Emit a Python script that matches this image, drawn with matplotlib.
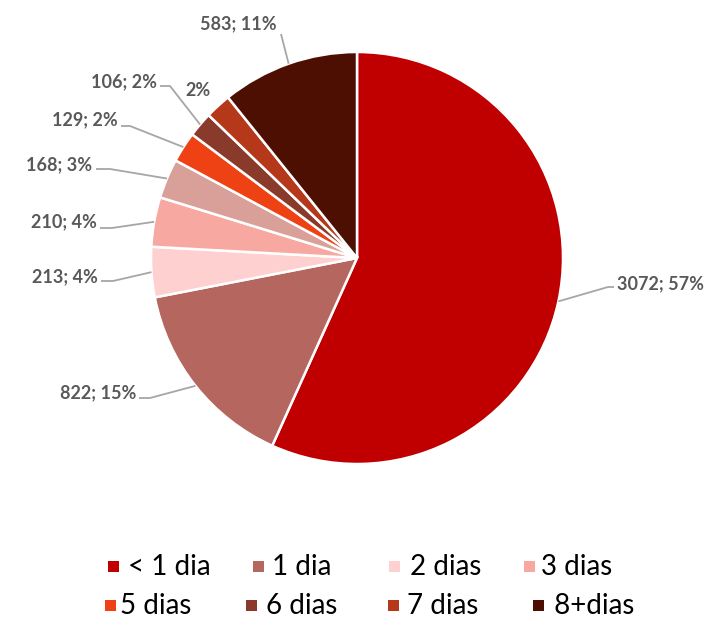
import matplotlib
matplotlib.use("Agg")
import matplotlib.pyplot as plt
import numpy as np
from matplotlib.patches import Rectangle

categorias = ["< 1 dia", "1 dia", "2 dias", "3 dias", "4 dias", "5 dias", "6 dias", "7 dias", "8+dias"]
valores = [3072, 822, 213, 210, 168, 129, 106, 110, 583]
cores = ["#C00000", "#B5665E", "#FFD0D0", "#F7A8A0", "#D9A09A",
         "#EE4215", "#8A3A2A", "#B5381A", "#4E0F03"]
mostra_valor = [True, True, True, True, True, True, True, False, True]

# legenda: 4 dias não aparece no original
legenda_idx = [0, 1, 2, 3, 5, 6, 7, 8]
legenda_txt = ["< 1 dia", "1 dia", " 2 dias", "3 dias", "5 dias", "6 dias", "7 dias", " 8+dias"]

# posições dos rótulos (pixels, y para baixo): texto, alinhamento, cotovelo da linha
rot_pos = [
    ((617, 284), "left", [(608, 287), (614, 287)]),
    ((136, 393), "right", [(150, 398), (139, 398)]),
    ((98, 277), "right", [(113, 281), (101, 281)]),
    ((97, 222), "right", [(112, 228), (100, 228)]),
    ((92, 165), "right", [(110, 169), (96, 169)]),
    ((118, 120), "right", [(130, 126), (121, 126)]),
    ((157, 82), "right", [(170, 86), (160, 86)]),
    ((198, 91), "center", None),
    ((238, 24), "center", [(281, 34)]),
]
leg_pos = [
    (113, 128, 566), (258, 272, 566), (394, 403, 566), (529, 541, 566),
    (110, 120, 605), (251, 266, 605), (393, 407, 605), (538, 547, 605),
]

total = sum(valores)
fig = plt.figure(figsize=(7.1, 6.19), dpi=100)
ax = fig.add_axes([0, 0, 1, 1])
cx, cy, r = 357, 258, 206

wedges, _ = ax.pie(valores, colors=cores, startangle=-90, counterclock=True,
                   center=(cx, cy), radius=r,
                   wedgeprops=dict(edgecolor="white", linewidth=1.8))
ax.set_xlim(0, 710)
ax.set_ylim(619, 0)
ax.set_aspect("equal")
ax.axis("off")

for i, w in enumerate(wedges):
    pct = round(100 * valores[i] / total)
    txt = f"{valores[i]}; {pct}%" if mostra_valor[i] else f"{pct}%"
    (tx, ty), ha, pts = rot_pos[i]
    ax.text(tx, ty, txt, ha=ha, va="center", fontsize=13, fontweight="bold",
            color="#595959", family="Lato")
    if pts:
        ang = np.deg2rad((w.theta1 + w.theta2) / 2)
        ex, ey = cx + r * np.cos(ang), cy + r * np.sin(ang)
        xs = [ex] + [p[0] for p in pts]
        ys = [ey] + [p[1] for p in pts]
        ax.plot(xs, ys, color="#A6A6A6", lw=1.3, solid_capstyle="butt")

for k, idx in enumerate(legenda_idx):
    mx, txx, yy = leg_pos[k]
    ax.add_patch(Rectangle((mx - 5.5, yy - 5.5), 11, 11, color=cores[idx], lw=0))
    ax.text(txx, yy + 1, legenda_txt[k], ha="left", va="center", fontsize=20,
            color="#000000", family="Lato")

fig.savefig("out.png", dpi=100)
